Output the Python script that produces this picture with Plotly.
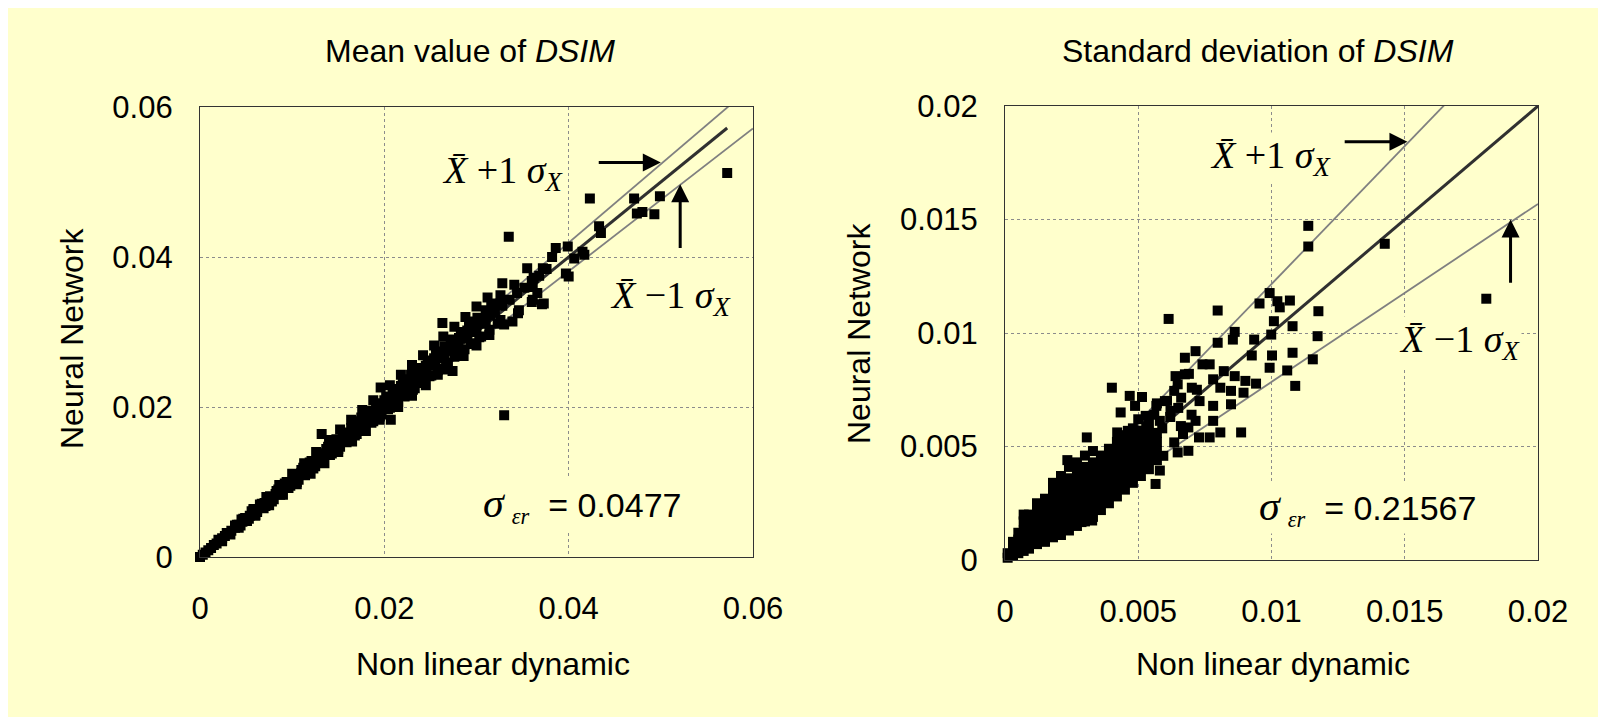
import plotly.graph_objects as go

# figure is drawn inside the page body (8 px default margin), so it is sized to fit the window
W, H = 1590, 709
BG = "#FFFFCC"

# ---------------- data ----------------
ticks_mean = [0, 0.02, 0.04, 0.06]
ticktext_mean = ["0", "0.02", "0.04", "0.06"]
ticks_std = [0, 0.005, 0.01, 0.015, 0.02]
ticktext_std = ["0", "0.005", "0.01", "0.015", "0.02"]

sigma_mean = 0.0477
sigma_std = 0.21567

# Mean value of DSIM : Non linear dynamic (x) vs Neural Network (y)
mean_nld = [
    0.0000, 0.0003, 0.0006, 0.0009, 0.0012, 0.0015, 0.0018, 0.0021, 0.0024, 0.0027,
    0.0030, 0.0034, 0.0038, 0.0042, 0.0046, 0.0050, 0.0054, 0.0058, 0.0062, 0.0066,
    0.0070, 0.0074, 0.0078, 0.0082, 0.0086, 0.0090, 0.0094, 0.0098, 0.0102, 0.0106,
    0.0110, 0.0115, 0.0120, 0.0125, 0.0130, 0.0135, 0.0140, 0.0145, 0.0150, 0.0155,
    0.0160, 0.0165, 0.0170, 0.0175, 0.0180, 0.0185, 0.0190, 0.0195, 0.0200, 0.0205,
    0.0210, 0.0215, 0.0220, 0.0225, 0.0230, 0.0235, 0.0240, 0.0245, 0.0250, 0.0255,
    0.0260, 0.0265, 0.0270, 0.0275, 0.0280, 0.0285, 0.0290, 0.0295, 0.0300, 0.0305,
    0.0310, 0.0315, 0.0320, 0.0328, 0.0336, 0.0344, 0.0352, 0.0360, 0.0368, 0.0376,
    0.0040, 0.0049, 0.0058, 0.0067, 0.0076, 0.0085, 0.0094, 0.0103, 0.0112, 0.0121,
    0.0130, 0.0139, 0.0148, 0.0157, 0.0166, 0.0175, 0.0184, 0.0193, 0.0202, 0.0211,
    0.0220, 0.0229, 0.0238, 0.0247, 0.0256, 0.0265, 0.0274, 0.0283, 0.0292, 0.0301,
    0.0310, 0.0319,
    0.0044, 0.0053, 0.0062, 0.0071, 0.0080, 0.0089, 0.0098, 0.0107, 0.0116, 0.0125,
    0.0134, 0.0143, 0.0152, 0.0161, 0.0170, 0.0179, 0.0188, 0.0197, 0.0206, 0.0215,
    0.0224, 0.0233, 0.0242, 0.0251, 0.0260, 0.0269, 0.0278, 0.0287, 0.0296, 0.0305,
    0.0314, 0.0323,
    0.0020, 0.0029, 0.0038, 0.0047, 0.0056, 0.0065, 0.0074, 0.0083, 0.0092, 0.0101,
    0.0110, 0.0119, 0.0128, 0.0137, 0.0146, 0.0155, 0.0164, 0.0173, 0.0182, 0.0191,
    0.0200, 0.0209, 0.0218, 0.0227, 0.0236, 0.0245, 0.0254, 0.0263, 0.0272, 0.0281,
    0.0290, 0.0299,
    0.0024, 0.0033, 0.0042, 0.0051, 0.0060, 0.0069, 0.0078, 0.0087, 0.0096, 0.0105,
    0.0114, 0.0123, 0.0132, 0.0141, 0.0150, 0.0159, 0.0168, 0.0177, 0.0186, 0.0195,
    0.0204, 0.0213, 0.0222, 0.0231, 0.0240, 0.0249, 0.0258, 0.0267, 0.0276, 0.0285,
    0.0294, 0.0303,
    0.0045, 0.0058, 0.0072, 0.0086, 0.0100, 0.0113, 0.0126, 0.0132, 0.0140, 0.0152,
    0.0164, 0.0176, 0.0188, 0.0196, 0.0206, 0.0218, 0.0230, 0.0242, 0.0254, 0.0264,
    0.0276, 0.0288, 0.0300, 0.0312,
    0.0060, 0.0075, 0.0090, 0.0105, 0.0120, 0.0135, 0.0150, 0.0165, 0.0180, 0.0195,
    0.0207, 0.0215, 0.0230, 0.0245, 0.0258, 0.0268, 0.0274, 0.0286, 0.0300, 0.0314,
    0.0330, 0.0345, 0.0360,
    0.0292, 0.0307, 0.0326, 0.0339, 0.0346, 0.0316, 0.0326, 0.0328, 0.0341, 0.0326,
    0.0355, 0.0372, 0.0362, 0.0361, 0.0366, 0.0361, 0.0373, 0.0371,
    0.0386, 0.0399, 0.0382, 0.0406, 0.0415, 0.0417, 0.0397, 0.0400,
    0.0433, 0.0435,
    0.0263, 0.0335, 0.0330, 0.0423, 0.0471, 0.0499, 0.0474, 0.0480, 0.0493, 0.0572,
]
mean_nn = [
    0.0000, 0.0003, 0.0006, 0.0009, 0.0012, 0.0016, 0.0018, 0.0022, 0.0025, 0.0028,
    0.0031, 0.0035, 0.0039, 0.0043, 0.0047, 0.0051, 0.0055, 0.0060, 0.0063, 0.0068,
    0.0072, 0.0075, 0.0080, 0.0084, 0.0087, 0.0092, 0.0096, 0.0100, 0.0104, 0.0108,
    0.0112, 0.0117, 0.0122, 0.0128, 0.0132, 0.0138, 0.0143, 0.0147, 0.0153, 0.0158,
    0.0163, 0.0168, 0.0173, 0.0179, 0.0183, 0.0189, 0.0194, 0.0198, 0.0204, 0.0209,
    0.0214, 0.0219, 0.0225, 0.0229, 0.0235, 0.0239, 0.0245, 0.0250, 0.0255, 0.0260,
    0.0265, 0.0271, 0.0275, 0.0281, 0.0285, 0.0291, 0.0296, 0.0300, 0.0306, 0.0311,
    0.0316, 0.0322, 0.0326, 0.0335, 0.0343, 0.0352, 0.0359, 0.0368, 0.0375, 0.0384,
    0.0043, 0.0052, 0.0062, 0.0071, 0.0081, 0.0090, 0.0100, 0.0109, 0.0119, 0.0128,
    0.0138, 0.0147, 0.0157, 0.0166, 0.0176, 0.0186, 0.0195, 0.0205, 0.0214, 0.0224,
    0.0233, 0.0243, 0.0252, 0.0262, 0.0271, 0.0281, 0.0290, 0.0300, 0.0310, 0.0319,
    0.0329, 0.0338,
    0.0042, 0.0051, 0.0060, 0.0068, 0.0077, 0.0086, 0.0095, 0.0103, 0.0112, 0.0121,
    0.0129, 0.0138, 0.0147, 0.0155, 0.0164, 0.0173, 0.0181, 0.0190, 0.0199, 0.0207,
    0.0216, 0.0225, 0.0233, 0.0242, 0.0251, 0.0259, 0.0268, 0.0277, 0.0285, 0.0294,
    0.0303, 0.0311,
    0.0023, 0.0032, 0.0042, 0.0051, 0.0061, 0.0070, 0.0079, 0.0088, 0.0098, 0.0107,
    0.0116, 0.0126, 0.0135, 0.0144, 0.0153, 0.0163, 0.0172, 0.0181, 0.0190, 0.0200,
    0.0209, 0.0218, 0.0228, 0.0237, 0.0246, 0.0255, 0.0265, 0.0274, 0.0283, 0.0292,
    0.0302, 0.0311,
    0.0021, 0.0030, 0.0039, 0.0048, 0.0056, 0.0065, 0.0074, 0.0083, 0.0092, 0.0100,
    0.0109, 0.0118, 0.0127, 0.0136, 0.0144, 0.0153, 0.0162, 0.0171, 0.0179, 0.0188,
    0.0197, 0.0206, 0.0214, 0.0223, 0.0232, 0.0241, 0.0249, 0.0258, 0.0267, 0.0276,
    0.0284, 0.0293,
    0.0050, 0.0064, 0.0080, 0.0096, 0.0111, 0.0125, 0.0140, 0.0164, 0.0156, 0.0170,
    0.0183, 0.0196, 0.0209, 0.0226, 0.0229, 0.0243, 0.0256, 0.0269, 0.0282, 0.0294,
    0.0307, 0.0320, 0.0334, 0.0346,
    0.0055, 0.0069, 0.0083, 0.0097, 0.0111, 0.0125, 0.0140, 0.0154, 0.0168, 0.0183,
    0.0183, 0.0200, 0.0215, 0.0229, 0.0243, 0.0250, 0.0248, 0.0268, 0.0282, 0.0296,
    0.0310, 0.0325, 0.0340,
    0.0314, 0.0314, 0.0316, 0.0314, 0.0329, 0.0334, 0.0338, 0.0365, 0.0363, 0.0349,
    0.0385, 0.0385, 0.0372, 0.0360, 0.0352, 0.0343, 0.0338, 0.0337,
    0.0412, 0.0414, 0.0400, 0.0398, 0.0407, 0.0403, 0.0378, 0.0374,
    0.0441, 0.0432,
    0.0312, 0.0427, 0.0189, 0.0478, 0.0478, 0.0481, 0.0458, 0.0460, 0.0457, 0.0512,
]

# Standard deviation of DSIM : Non linear dynamic (x) vs Neural Network (y)
std_nld = [
    0.0001, 0.0001,
    0.0003, 0.0003, 0.0003,
    0.0005, 0.0005, 0.0005, 0.0005,
    0.0007, 0.0007, 0.0007, 0.0007, 0.0007, 0.0007,
    0.0009, 0.0009, 0.0009, 0.0009, 0.0009, 0.0009,
    0.0012, 0.0012, 0.0012, 0.0012, 0.0012, 0.0012, 0.0012,
    0.0015, 0.0015, 0.0015, 0.0015, 0.0015, 0.0015, 0.0015,
    0.0018, 0.0018, 0.0018, 0.0018, 0.0018, 0.0018, 0.0018, 0.0018,
    0.0021, 0.0021, 0.0021, 0.0021, 0.0021, 0.0021, 0.0021, 0.0021,
    0.0024, 0.0024, 0.0024, 0.0024, 0.0024, 0.0024, 0.0024, 0.0024,
    0.0027, 0.0027, 0.0027, 0.0027, 0.0027, 0.0027, 0.0027, 0.0027,
    0.0030, 0.0030, 0.0030, 0.0030, 0.0030, 0.0030, 0.0030, 0.0030,
    0.0033, 0.0033, 0.0033, 0.0033, 0.0033, 0.0033, 0.0033, 0.0033,
    0.0036, 0.0036, 0.0036, 0.0036, 0.0036, 0.0036, 0.0036,
    0.0039, 0.0039, 0.0039, 0.0039, 0.0039, 0.0039, 0.0039,
    0.0042, 0.0042, 0.0042, 0.0042, 0.0042, 0.0042, 0.0042,
    0.0045, 0.0045, 0.0045, 0.0045, 0.0045, 0.0045, 0.0045,
    0.0048, 0.0048, 0.0048, 0.0048, 0.0048, 0.0048, 0.0048,
    0.0051, 0.0051, 0.0051, 0.0051, 0.0051, 0.0051,
    0.0054, 0.0054, 0.0054, 0.0054, 0.0054, 0.0054,
    0.0057, 0.0057, 0.0057, 0.0057,
    0.01138, 0.01138, 0.01425, 0.01806,
    0.00614, 0.00798, 0.00955, 0.00993, 0.01022, 0.01069, 0.01031, 0.01009, 0.01176, 0.01079,
    0.01173, 0.00999, 0.00862, 0.00855, 0.00935, 0.00798, 0.01079, 0.01002, 0.00926, 0.01155,
    0.00993, 0.01059, 0.01089, 0.00942, 0.00902, 0.00895, 0.00848, 0.00848, 0.00808, 0.00781,
    0.00768, 0.00821, 0.00862, 0.00715, 0.00675, 0.00675, 0.00741, 0.00781, 0.00781, 0.00715,
    0.00688, 0.00728, 0.00768, 0.00808, 0.00886, 0.00668, 0.00635, 0.00688, 0.00648, 0.00594,
    0.00581, 0.00565, 0.00401, 0.00468, 0.00514, 0.00488, 0.00434, 0.00568, 0.00608, 0.00635,
    0.00648, 0.00701, 0.00661, 0.00621, 0.00581, 0.00528, 0.00421, 0.00461, 0.00307, 0.00234,
    0.00327, 0.00287,
    0.0050, 0.0053, 0.0056, 0.0059, 0.0062, 0.0065, 0.0060, 0.0057, 0.0070, 0.0073,
    0.0066, 0.0072, 0.0069, 0.0064,
]
std_nn = [
    0.0001, 0.0003,
    0.0002, 0.0005, 0.0008,
    0.0003, 0.0006, 0.0009, 0.0012,
    0.0004, 0.0007, 0.0010, 0.0013, 0.0017, 0.0020,
    0.0005, 0.0008, 0.0011, 0.0014, 0.0017, 0.0020,
    0.0007, 0.0010, 0.0013, 0.0016, 0.0019, 0.0022, 0.0025,
    0.0008, 0.0011, 0.0014, 0.0017, 0.0020, 0.0023, 0.0027,
    0.0010, 0.0013, 0.0016, 0.0019, 0.0022, 0.0026, 0.0030, 0.0034,
    0.0011, 0.0015, 0.0018, 0.0021, 0.0025, 0.0029, 0.0033, 0.0037,
    0.0013, 0.0017, 0.0020, 0.0024, 0.0028, 0.0032, 0.0036, 0.0041,
    0.0015, 0.0019, 0.0023, 0.0027, 0.0031, 0.0035, 0.0039, 0.0043,
    0.0017, 0.0021, 0.0025, 0.0029, 0.0033, 0.0037, 0.0041, 0.0046,
    0.0019, 0.0023, 0.0027, 0.0031, 0.0035, 0.0039, 0.0043, 0.0048,
    0.0022, 0.0026, 0.0030, 0.0034, 0.0038, 0.0042, 0.0046,
    0.0025, 0.0029, 0.0033, 0.0037, 0.0041, 0.0045, 0.0049,
    0.0028, 0.0032, 0.0036, 0.0040, 0.0044, 0.0048, 0.0052,
    0.0031, 0.0035, 0.0039, 0.0043, 0.0047, 0.0051, 0.0055,
    0.0034, 0.0038, 0.0042, 0.0046, 0.0050, 0.0054, 0.0058,
    0.0037, 0.0041, 0.0045, 0.0049, 0.0053, 0.0057,
    0.0040, 0.0044, 0.0048, 0.0052, 0.0056, 0.0060,
    0.0044, 0.0048, 0.0052, 0.0056,
    0.01472, 0.01381, 0.01393, 0.01151,
    0.01062, 0.01099, 0.01130, 0.01176, 0.01140, 0.01143, 0.01113, 0.01052, 0.01096, 0.01030,
    0.00986, 0.00993, 0.01005, 0.00971, 0.00971, 0.00957, 0.00913, 0.00901, 0.00901, 0.00884,
    0.00847, 0.00835, 0.00767, 0.00777, 0.00789, 0.00737, 0.00745, 0.00686, 0.00759, 0.00796,
    0.00862, 0.00832, 0.00810, 0.00920, 0.00891, 0.00818, 0.00862, 0.00679, 0.00613, 0.00613,
    0.00584, 0.00540, 0.00540, 0.00562, 0.00562, 0.00555, 0.00518, 0.00481, 0.00474, 0.00459,
    0.00394, 0.00335, 0.00759, 0.00723, 0.00718, 0.00679, 0.00650, 0.00679, 0.00701, 0.00745,
    0.00774, 0.00759, 0.00715, 0.00657, 0.00613, 0.00635, 0.00562, 0.00569, 0.00540, 0.00440,
    0.00174, 0.00167,
    0.0062, 0.0059, 0.0064, 0.0058, 0.0063, 0.0067, 0.0070, 0.0069, 0.0064, 0.0070,
    0.0059, 0.0075, 0.0082, 0.0081,
]

# reference lines (X-bar and X-bar +/- 1 sigma): x extent of each line
mean_line_x = [0.0, 0.0572]
mean_band_x = [0.0, 0.06]
std_line_x = [0.0, 0.0203]
std_band_x = [0.0, 0.02]

# ---------------- figure ----------------
fig = go.Figure()

SANS = "Liberation Sans, Arial, sans-serif"
SERIF = "Liberation Serif, Times New Roman, serif"
TICKFONT = dict(family=SANS, size=31, color="black")

marker = dict(symbol="square", size=10, color="black", line=dict(width=0))


def band_traces(xs_line, xs_band, sigma, xa, ya):
    up = [v * (1 + sigma) for v in xs_band]
    lo = [v * (1 - sigma) for v in xs_band]
    for ys in (up, lo):
        fig.add_trace(go.Scatter(x=xs_band, y=ys, mode="lines", line=dict(color="#808080", width=1.8),
                                 xaxis=xa, yaxis=ya, showlegend=False, hoverinfo="skip"))
    fig.add_trace(go.Scatter(x=xs_line, y=xs_line, mode="lines", line=dict(color="#303030", width=3),
                             xaxis=xa, yaxis=ya, showlegend=False, hoverinfo="skip"))


band_traces(mean_line_x, mean_band_x, sigma_mean, "x", "y")
band_traces(std_line_x, std_band_x, sigma_std, "x2", "y2")

fig.add_trace(go.Scatter(x=mean_nld, y=mean_nn, mode="markers", marker=marker,
                         xaxis="x", yaxis="y", cliponaxis=False, showlegend=False))
fig.add_trace(go.Scatter(x=std_nld, y=std_nn, mode="markers", marker=marker,
                         xaxis="x2", yaxis="y2", cliponaxis=False, showlegend=False))

OFF = 8  # page body margin


def px_x(p):
    return (p - OFF) / W


def px_y(p):
    return 1 - (p - OFF) / H


common_axis = dict(
    showgrid=True, gridcolor="#8c8c8c", griddash="dot", gridwidth=1,
    showline=True, mirror=True, linecolor="#333333", linewidth=1.3,
    zeroline=False, ticks="", tickfont=TICKFONT, automargin=False,
)

fig.update_layout(
    width=W, height=H,
    margin=dict(l=0, r=0, t=0, b=0, pad=0, autoexpand=False),
    paper_bgcolor=BG,
    plot_bgcolor=BG,
    xaxis=dict(domain=[px_x(200), px_x(753)], range=[0, 0.06], anchor="y",
               tickvals=ticks_mean, ticktext=ticktext_mean, ticklabelstandoff=24, **common_axis),
    yaxis=dict(domain=[px_y(557), px_y(107)], range=[0, 0.06], anchor="x",
               tickvals=ticks_mean, ticktext=ticktext_mean, ticklabelstandoff=20, **common_axis),
    xaxis2=dict(domain=[px_x(1005), px_x(1538)], range=[0, 0.02], anchor="y2",
                tickvals=ticks_std, ticktext=ticktext_std, ticklabelstandoff=24, **common_axis),
    yaxis2=dict(domain=[px_y(560), px_y(106)], range=[0, 0.02], anchor="x2",
                tickvals=ticks_std, ticktext=ticktext_std, ticklabelstandoff=20, **common_axis),
)

ann = []


def paper_text(text, xc, yc, size=32, angle=0):
    return dict(text=text, x=px_x(xc), y=px_y(yc), xref="paper", yref="paper",
                xanchor="center", yanchor="middle", textangle=angle, showarrow=False,
                font=dict(family=SANS, size=size, color="black"))


ann.append(paper_text("Mean value of <i>DSIM</i>", 470, 51))
ann.append(paper_text("Standard deviation of <i>DSIM</i>", 1258, 51))
ann.append(paper_text("Non linear dynamic", 493, 664))
ann.append(paper_text("Non linear dynamic", 1273, 664))
ann.append(paper_text("Neural Network", 72, 338, angle=-90))
ann.append(paper_text("Neural Network", 859, 333, angle=-90))

xbar = "X\u0304"
plus_txt = f"<i>{xbar}</i> +1 <i>σ</i><sub><i>X</i></sub>"
minus_txt = f"<i>{xbar}</i> \u22121 <i>σ</i><sub><i>X</i></sub>"


def sig_txt(v):
    return (f'<span style="font-family:{SERIF};font-size:42px"><i>σ</i></span>'
            f'<span style="font-family:{SERIF};font-size:32px"> <sub><i>εr</i></sub></span>'
            f'  = {v}')


label_font = dict(family=SERIF, size=38, color="black")


def data_text(text, x, y, xr, yr, font):
    return dict(text=text, x=x, y=y, xref=xr, yref=yr, xanchor="center", yanchor="middle",
                showarrow=False, font=font, bgcolor=BG)


sig_font = dict(family=SANS, size=34, color="black")
ann.append(data_text(plus_txt, 0.0328, 0.0512, "x", "y", label_font))
ann.append(data_text(minus_txt, 0.0510, 0.0345, "x", "y", label_font))
ann.append(data_text(sig_txt("0.0477"), 0.0414, 0.0070, "x", "y", sig_font))
ann.append(data_text(plus_txt, 0.00995, 0.0177, "x2", "y2", label_font))
ann.append(data_text(minus_txt, 0.01705, 0.0096, "x2", "y2", label_font))
ann.append(data_text(sig_txt("0.21567"), 0.01362, 0.0023, "x2", "y2", sig_font))


def arrow(x0, y0, x1, y1, xr, yr):
    return dict(x=x1, y=y1, ax=x0, ay=y0, xref=xr, yref=yr, axref=xr, ayref=yr, text="",
                showarrow=True, arrowhead=2, arrowsize=1.2, arrowwidth=3, arrowcolor="black")


ann.append(arrow(0.0431, 0.0526, 0.0500, 0.0526, "x", "y"))
ann.append(arrow(0.0521, 0.0410, 0.0521, 0.0497, "x", "y"))
ann.append(arrow(0.01269, 0.01842, 0.01510, 0.01842, "x2", "y2"))
ann.append(arrow(0.01897, 0.01215, 0.01897, 0.01500, "x2", "y2"))

fig.update_layout(annotations=ann)

fig.write_html("out.html")
